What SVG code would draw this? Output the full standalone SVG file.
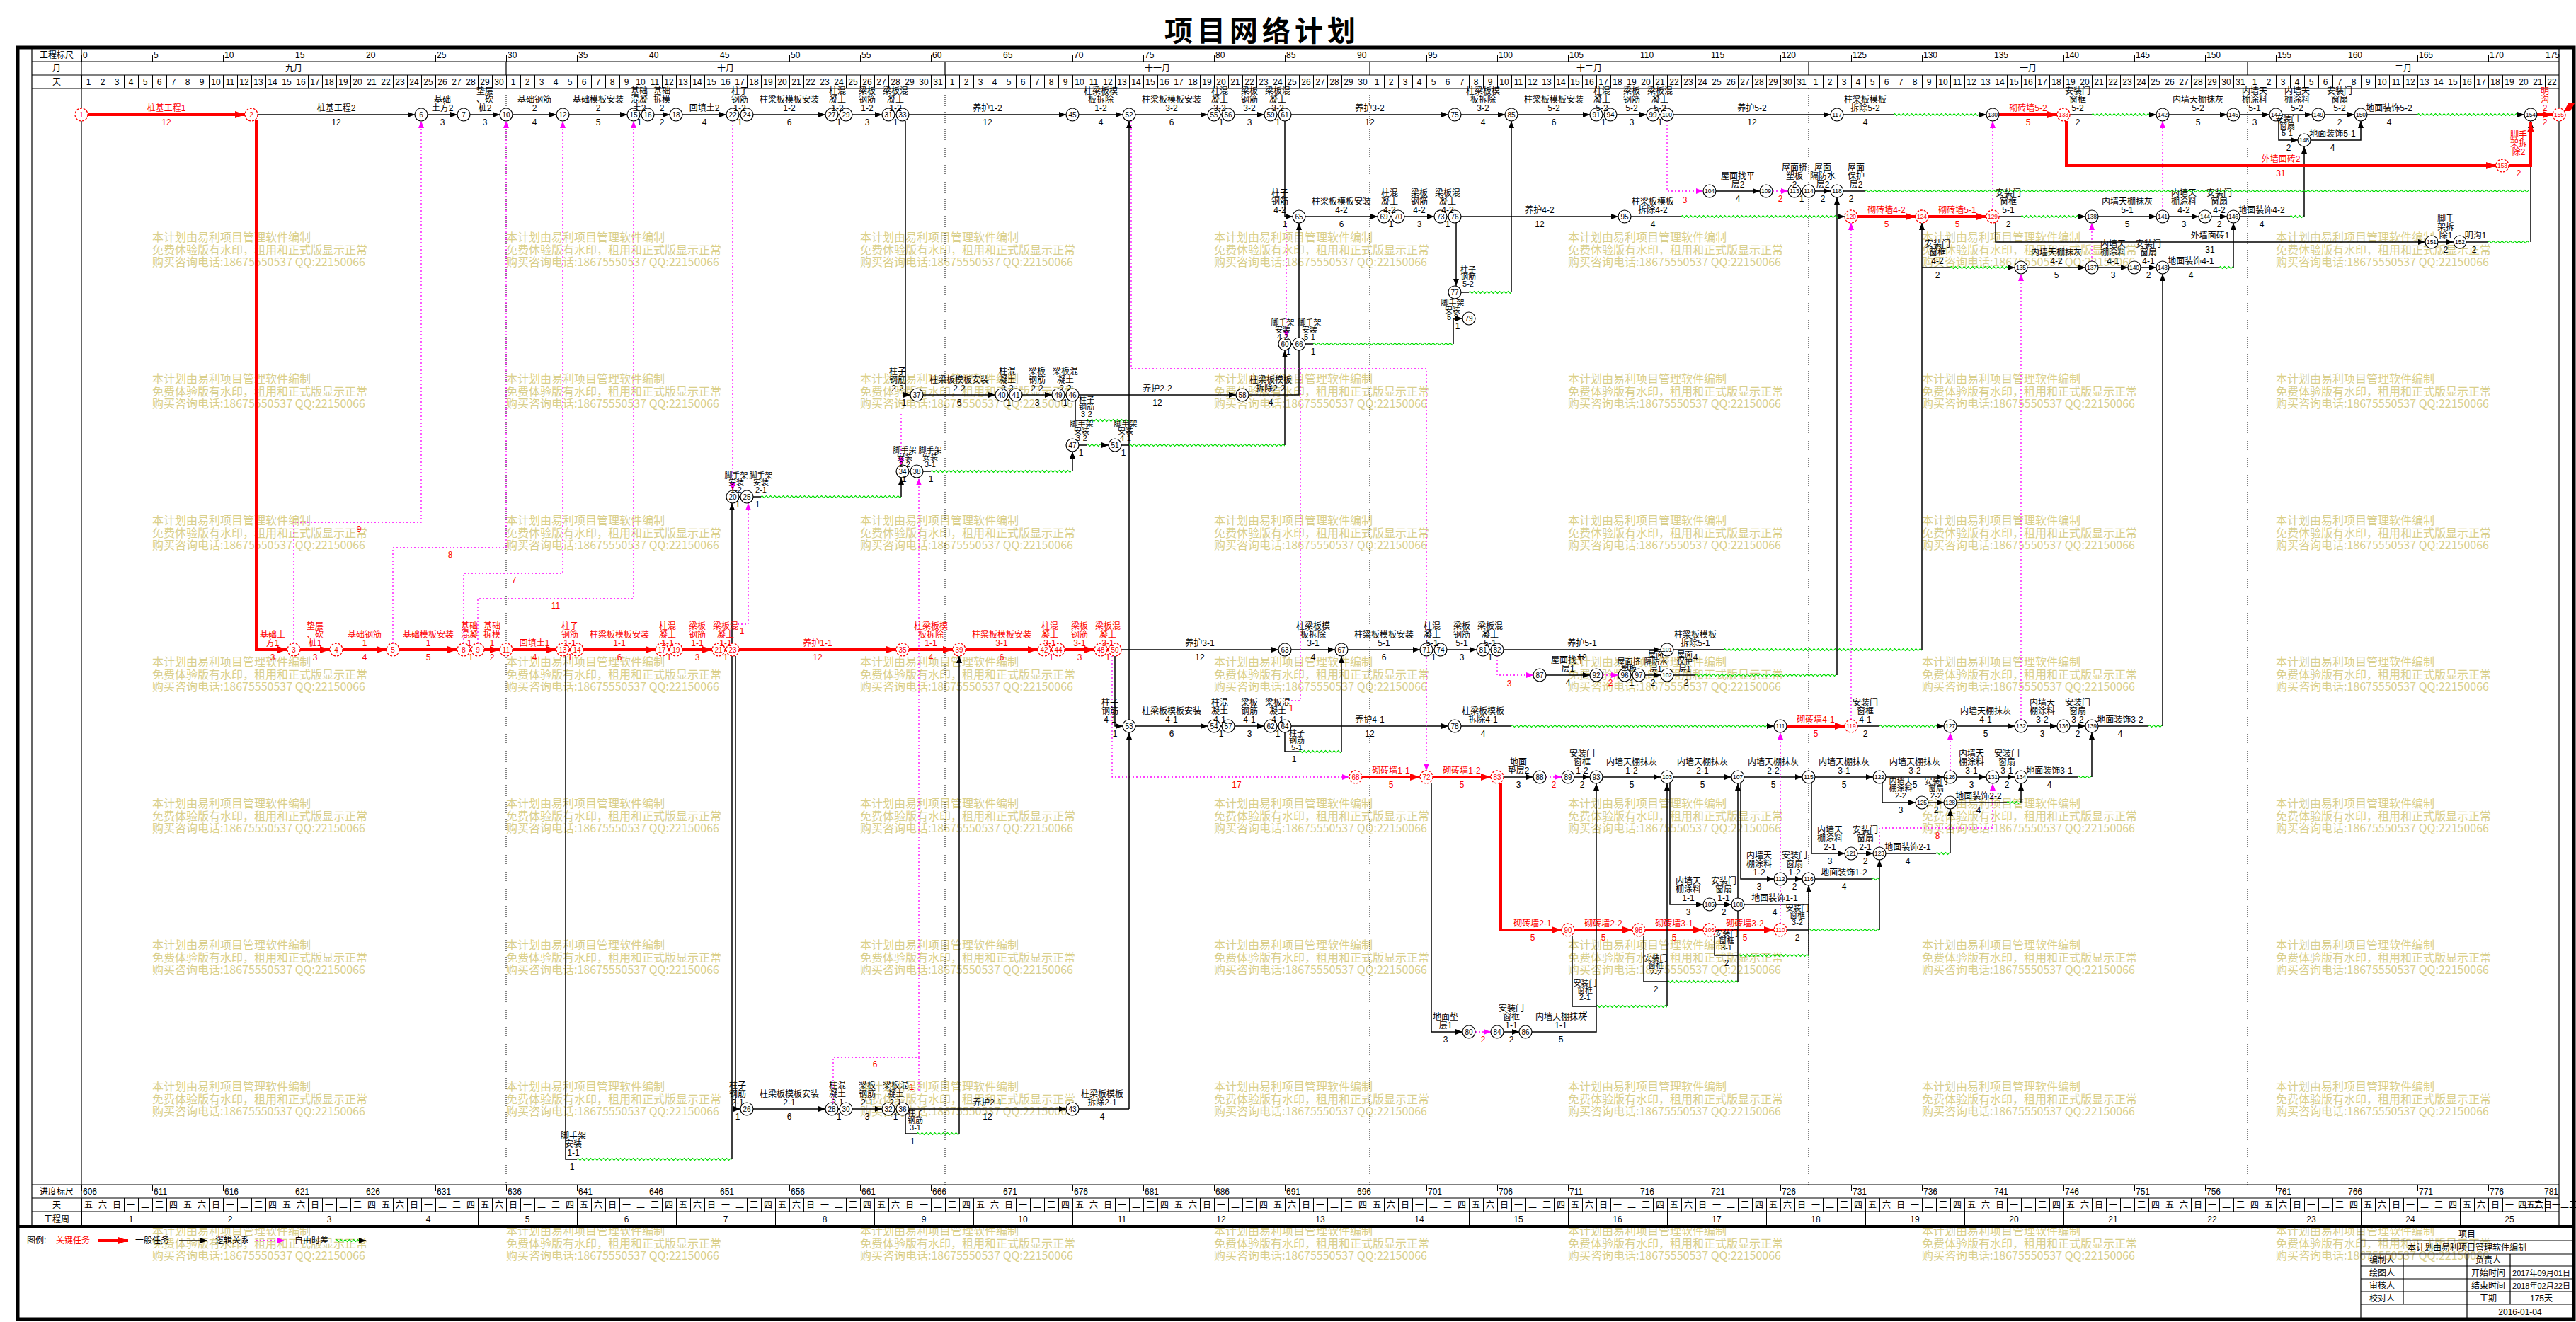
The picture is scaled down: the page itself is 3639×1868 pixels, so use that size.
<svg xmlns="http://www.w3.org/2000/svg" width="3639" height="1868" viewBox="0 0 3639 1868">
<style>
text{font-family:"Liberation Sans","Noto Sans CJK SC",sans-serif;font-size:12px;fill:#000}
.t{text-anchor:middle}
.tr{text-anchor:middle;fill:#f00}
.s{font-size:11px}
.nn{text-anchor:middle;font-size:10px}
.nr{text-anchor:middle;font-size:10px;fill:#f00}
.n3{text-anchor:middle;font-size:8.5px}
.n3r{text-anchor:middle;font-size:8.5px;fill:#f00}
.c{fill:#fff;stroke:#000;stroke-width:1.2}
.cr{fill:#fff;stroke:#f00;stroke-width:1.3;stroke-dasharray:3 2}
.a{fill:none;stroke:#000;stroke-width:1.5;marker-end:url(#ab)}
.b{fill:none;stroke:#000;stroke-width:1.5}
.ra{fill:none;stroke:#f00;stroke-width:4;marker-end:url(#ar)}
.ma{fill:none;stroke:#f0f;stroke-width:1.3;stroke-dasharray:2 3;marker-end:url(#am)}
.mb{fill:none;stroke:#f0f;stroke-width:1.3;stroke-dasharray:2 3}
.md{fill:none;stroke:#000;stroke-width:1;stroke-dasharray:1 2}
.gl{stroke:#000;stroke-width:1.2;fill:none}
.wm{fill:#d9cf8c;font-size:16px;font-family:"Noto Sans CJK SC",sans-serif}
.ttl{font-size:40px;font-weight:bold;text-anchor:middle;letter-spacing:6px;font-family:"Noto Sans CJK SC",sans-serif}
</style>
<defs>
<marker id="ab" viewBox="0 0 10 8" refX="10" refY="4" markerWidth="10" markerHeight="8" markerUnits="userSpaceOnUse" orient="auto"><path d="M0,0L10,4L0,8z" fill="#000"/></marker>
<marker id="ar" viewBox="0 0 14 10" refX="14" refY="5" markerWidth="14" markerHeight="10" markerUnits="userSpaceOnUse" orient="auto"><path d="M0,0L14,5L0,10z" fill="#f00"/></marker>
<marker id="am" viewBox="0 0 10 8" refX="10" refY="4" markerWidth="10" markerHeight="8" markerUnits="userSpaceOnUse" orient="auto"><path d="M0,0L10,4L0,8z" fill="#f0f"/></marker>
<pattern id="wv" width="6" height="6" y="-3" patternUnits="userSpaceOnUse"><path d="M0,3L1.5,1.5L4.5,4.5L6,3" fill="none" stroke="#00dd00" stroke-width="1.2"/></pattern>
<pattern id="dc" x="115" width="20" height="20" patternUnits="userSpaceOnUse"><rect width="1" height="20"/></pattern>
<pattern id="tk" x="115" width="100" height="20" patternUnits="userSpaceOnUse"><rect width="1" height="20"/></pattern>
<pattern id="wk" x="115" width="140" height="20" patternUnits="userSpaceOnUse"><rect width="1" height="20"/></pattern>
<text id="wm" class="wm"><tspan x="0" y="0">本计划由易利项目管理软件编制</tspan><tspan x="0" y="17.5">免费体验版有水印，租用和正式版显示正常</tspan><tspan x="0" y="35">购买咨询电话:18675550537 QQ:22150066</tspan></text>
<g id="d22"><text class="t" y="120"><tspan x="10">1</tspan><tspan x="30">2</tspan><tspan x="50">3</tspan><tspan x="70">4</tspan><tspan x="90">5</tspan><tspan x="110">6</tspan><tspan x="130">7</tspan><tspan x="150">8</tspan><tspan x="170">9</tspan><tspan x="190">10</tspan><tspan x="210">11</tspan><tspan x="230">12</tspan><tspan x="250">13</tspan><tspan x="270">14</tspan><tspan x="290">15</tspan><tspan x="310">16</tspan><tspan x="330">17</tspan><tspan x="350">18</tspan><tspan x="370">19</tspan><tspan x="390">20</tspan><tspan x="410">21</tspan><tspan x="430">22</tspan></text></g>
<g id="d30"><use href="#d22"/><text class="t" y="120"><tspan x="450">23</tspan><tspan x="470">24</tspan><tspan x="490">25</tspan><tspan x="510">26</tspan><tspan x="530">27</tspan><tspan x="550">28</tspan><tspan x="570">29</tspan><tspan x="590">30</tspan></text></g>
<g id="d31"><use href="#d30"/><text class="t" x="610" y="120">31</text></g>
</defs>
<rect width="3639" height="1868" fill="#fff"/>
<text class="ttl" x="1783" y="58">项目网络计划</text>

<g id="watermark">
<use href="#wm" x="215" y="341"/><use href="#wm" x="715" y="341"/><use href="#wm" x="1215" y="341"/><use href="#wm" x="1715" y="341"/><use href="#wm" x="2215" y="341"/><use href="#wm" x="2715" y="341"/><use href="#wm" x="3215" y="341"/>
<use href="#wm" x="215" y="541"/><use href="#wm" x="715" y="541"/><use href="#wm" x="1215" y="541"/><use href="#wm" x="1715" y="541"/><use href="#wm" x="2215" y="541"/><use href="#wm" x="2715" y="541"/><use href="#wm" x="3215" y="541"/>
<use href="#wm" x="215" y="741"/><use href="#wm" x="715" y="741"/><use href="#wm" x="1215" y="741"/><use href="#wm" x="1715" y="741"/><use href="#wm" x="2215" y="741"/><use href="#wm" x="2715" y="741"/><use href="#wm" x="3215" y="741"/>
<use href="#wm" x="215" y="941"/><use href="#wm" x="715" y="941"/><use href="#wm" x="1215" y="941"/><use href="#wm" x="1715" y="941"/><use href="#wm" x="2215" y="941"/><use href="#wm" x="2715" y="941"/><use href="#wm" x="3215" y="941"/>
<use href="#wm" x="215" y="1141"/><use href="#wm" x="715" y="1141"/><use href="#wm" x="1215" y="1141"/><use href="#wm" x="1715" y="1141"/><use href="#wm" x="2215" y="1141"/><use href="#wm" x="2715" y="1141"/><use href="#wm" x="3215" y="1141"/>
<use href="#wm" x="215" y="1341"/><use href="#wm" x="715" y="1341"/><use href="#wm" x="1215" y="1341"/><use href="#wm" x="1715" y="1341"/><use href="#wm" x="2215" y="1341"/><use href="#wm" x="2715" y="1341"/><use href="#wm" x="3215" y="1341"/>
<use href="#wm" x="215" y="1541"/><use href="#wm" x="715" y="1541"/><use href="#wm" x="1215" y="1541"/><use href="#wm" x="1715" y="1541"/><use href="#wm" x="2215" y="1541"/><use href="#wm" x="2715" y="1541"/><use href="#wm" x="3215" y="1541"/>
<use href="#wm" x="215" y="1745"/><use href="#wm" x="715" y="1745"/><use href="#wm" x="1215" y="1745"/><use href="#wm" x="1715" y="1745"/><use href="#wm" x="2215" y="1745"/><use href="#wm" x="2715" y="1745"/><use href="#wm" x="3215" y="1745"/>
</g>

<g id="frame">
<rect x="25" y="67" width="3611" height="1797" fill="none" stroke="#000" stroke-width="5"/>
<path class="gl" d="M45,67V1733M115,67V1733M3615,67V1733M45,87H3615M45,106H3615M45,125H3615M45,1674H3615M45,1693H3615M45,1712H3615"/>
<path d="M25,1733H3636" stroke="#000" stroke-width="4"/>
<path class="gl" d="M715,87V106M1335,87V106M1935,87V106M2555,87V106M3175,87V106"/>
<path class="md" d="M715,125V1674M1335,125V1674M1935,125V1674M2555,125V1674M3175,125V1674"/>
<rect x="115" y="106" width="3500" height="19" fill="url(#dc)"/>
<rect x="115" y="1693" width="3500" height="19" fill="url(#dc)"/>
<rect x="115" y="78" width="3500" height="9" fill="url(#tk)"/>
<rect x="115" y="1674" width="3500" height="9" fill="url(#tk)"/>
<rect x="115" y="1712" width="3500" height="19" fill="url(#wk)"/>
<text class="t" x="80" y="82">工程标尺</text><text class="t" x="80" y="101">月</text><text class="t" x="80" y="120">天</text>
<text class="t" x="80" y="1688">进度标尺</text><text class="t" x="80" y="1707">天</text><text class="t" x="80" y="1727">工程周</text>
<text y="82"><tspan x="117">0</tspan><tspan x="217">5</tspan><tspan x="317">10</tspan><tspan x="417">15</tspan><tspan x="517">20</tspan><tspan x="617">25</tspan><tspan x="717">30</tspan><tspan x="817">35</tspan><tspan x="917">40</tspan><tspan x="1017">45</tspan><tspan x="1117">50</tspan><tspan x="1217">55</tspan><tspan x="1317">60</tspan><tspan x="1417">65</tspan><tspan x="1517">70</tspan><tspan x="1617">75</tspan><tspan x="1717">80</tspan><tspan x="1817">85</tspan><tspan x="1917">90</tspan><tspan x="2017">95</tspan><tspan x="2117">100</tspan><tspan x="2217">105</tspan><tspan x="2317">110</tspan><tspan x="2417">115</tspan><tspan x="2517">120</tspan><tspan x="2617">125</tspan><tspan x="2717">130</tspan><tspan x="2817">135</tspan><tspan x="2917">140</tspan><tspan x="3017">145</tspan><tspan x="3117">150</tspan><tspan x="3217">155</tspan><tspan x="3317">160</tspan><tspan x="3417">165</tspan><tspan x="3517">170</tspan><tspan x="3596">175</tspan></text>
<text y="1688"><tspan x="117">606</tspan><tspan x="217">611</tspan><tspan x="317">616</tspan><tspan x="417">621</tspan><tspan x="517">626</tspan><tspan x="617">631</tspan><tspan x="717">636</tspan><tspan x="817">641</tspan><tspan x="917">646</tspan><tspan x="1017">651</tspan><tspan x="1117">656</tspan><tspan x="1217">661</tspan><tspan x="1317">666</tspan><tspan x="1417">671</tspan><tspan x="1517">676</tspan><tspan x="1617">681</tspan><tspan x="1717">686</tspan><tspan x="1817">691</tspan><tspan x="1917">696</tspan><tspan x="2017">701</tspan><tspan x="2117">706</tspan><tspan x="2217">711</tspan><tspan x="2317">716</tspan><tspan x="2417">721</tspan><tspan x="2517">726</tspan><tspan x="2617">731</tspan><tspan x="2717">736</tspan><tspan x="2817">741</tspan><tspan x="2917">746</tspan><tspan x="3017">751</tspan><tspan x="3117">756</tspan><tspan x="3217">761</tspan><tspan x="3317">766</tspan><tspan x="3417">771</tspan><tspan x="3517">776</tspan><tspan x="3594">781</tspan></text>
<text class="t" y="101"><tspan x="415">九月</tspan><tspan x="1025">十月</tspan><tspan x="1635">十一月</tspan><tspan x="2245">十二月</tspan><tspan x="2865">一月</tspan><tspan x="3395">二月</tspan></text>
<use href="#d30" x="115"/><use href="#d31" x="715"/><use href="#d30" x="1335"/><use href="#d31" x="1935"/><use href="#d31" x="2555"/><use href="#d22" x="3175"/>
<text class="t" y="1707" x="125 145 165 185 205 225 245 265 285 305 325 345 365 385 405 425 445 465 485 505 525 545 565 585 605 625 645 665 685 705 725 745 765 785 805 825 845 865 885 905 925 945 965 985 1005 1025 1045 1065 1085 1105 1125 1145 1165 1185 1205 1225 1245 1265 1285 1305 1325 1345 1365 1385 1405 1425 1445 1465 1485 1505 1525 1545 1565 1585 1605 1625 1645 1665 1685 1705 1725 1745 1765 1785 1805 1825 1845 1865 1885 1905 1925 1945 1965 1985 2005 2025 2045 2065 2085 2105 2125 2145 2165 2185 2205 2225 2245 2265 2285 2305 2325 2345 2365 2385 2405 2425 2445 2465 2485 2505 2525 2545 2565 2585 2605 2625 2645 2665 2685 2705 2725 2745 2765 2785 2805 2825 2845 2865 2885 2905 2925 2945 2965 2985 3005 3025 3045 3065 3085 3105 3125 3145 3165 3185 3205 3225 3245 3265 3285 3305 3325 3345 3365 3385 3405 3425 3445 3465 3485 3505 3525 3545 3565 3585 3605">五六日一二三四五六日一二三四五六日一二三四五六日一二三四五六日一二三四五六日一二三四五六日一二三四五六日一二三四五六日一二三四五六日一二三四五六日一二三四五六日一二三四五六日一二三四五六日一二三四五六日一二三四五六日一二三四五六日一二三四五六日一二三四五六日一二三四五六日一二三四五六日一二三四五六日一二三四五六日一二三四五六日一二三四五六日一二三四五六日一二三四</text>
<text class="t" y="1727"><tspan x="185">1</tspan><tspan x="325">2</tspan><tspan x="465">3</tspan><tspan x="605">4</tspan><tspan x="745">5</tspan><tspan x="885">6</tspan><tspan x="1025">7</tspan><tspan x="1165">8</tspan><tspan x="1305">9</tspan><tspan x="1445">10</tspan><tspan x="1585">11</tspan><tspan x="1725">12</tspan><tspan x="1865">13</tspan><tspan x="2005">14</tspan><tspan x="2145">15</tspan><tspan x="2285">16</tspan><tspan x="2425">17</tspan><tspan x="2565">18</tspan><tspan x="2705">19</tspan><tspan x="2845">20</tspan><tspan x="2985">21</tspan><tspan x="3125">22</tspan><tspan x="3265">23</tspan><tspan x="3405">24</tspan><tspan x="3545">25</tspan></text>
</g>

<g id="legend">
<text x="38" y="1757">图例:</text>
<text x="79" y="1757" style="fill:#f00">关键任务</text>
<path class="ra" d="M138,1753H181"/>
<text x="191" y="1757">一般任务</text>
<path class="a" d="M253,1753H293"/>
<text x="304" y="1757">逻辑关系</text>
<path class="ma" d="M362,1753H402"/>
<text x="416" y="1757">自由时差</text>
<rect transform="translate(474,1753)" y="-3" width="33" height="6" fill="url(#wv)"/>
<path class="a" d="M507,1753H517"/>
</g>

<g id="titleblock">
<path class="gl" d="M3335,1733V1864M3335,1753H3636M3335,1772H3636M3335,1789H3636M3335,1807H3636M3335,1825H3636M3335,1843H3636M3395,1772V1843M3485,1772V1864M3546,1772V1843"/>
<text class="t" x="3485" y="1748">项目</text>
<text class="t" x="3485" y="1767">本计划由易利项目管理软件编制</text>
<text class="t" x="3365" y="1785">编制人</text><text class="t" x="3515" y="1785">负责人</text>
<text class="t" x="3365" y="1803">绘图人</text><text class="t" x="3515" y="1803">开始时间</text><text class="t s" x="3590" y="1803">2017年09月01日</text>
<text class="t" x="3365" y="1821">审核人</text><text class="t" x="3515" y="1821">结束时间</text><text class="t s" x="3590" y="1821">2018年02月22日</text>
<text class="t" x="3365" y="1839">校对人</text><text class="t" x="3515" y="1839">工期</text><text class="t" x="3590" y="1839">175天</text>
<text class="t" x="3560" y="1858">2016-01-04</text>
</g>

<g id="connectors" transform="translate(2,0)">
<path class="ra" d="M122,162H344"/>
<path class="a" d="M362,162H584"/><path class="a" d="M602,162H644"/><path class="a" d="M662,162H704"/><path class="a" d="M722,162H784"/><path class="a" d="M802,162H884"/><path class="a" d="M902,162H904"/><path class="a" d="M922,162H944"/><path class="a" d="M962,162H1024"/><path class="a" d="M1042,162H1044"/><path class="a" d="M1062,162H1164"/><path class="a" d="M1182,162H1184"/><path class="a" d="M1202,162H1244"/><path class="a" d="M1262,162H1264"/><path class="a" d="M1282,162H1504"/><path class="a" d="M1522,162H1584"/><path class="a" d="M1602,162H1704"/><path class="a" d="M1722,162H1724"/><path class="a" d="M1742,162H1784"/><path class="a" d="M1802,162H1804"/><path class="a" d="M1822,162H2044"/><path class="a" d="M2062,162H2124"/><path class="a" d="M2142,162H2244"/><path class="a" d="M2262,162H2264"/><path class="a" d="M2282,162H2324"/><path class="a" d="M2342,162H2344"/><path class="a" d="M2362,162H2584"/>
<path class="b" d="M2602,162H2673"/><rect transform="translate(2673,162)" y="-3" width="121" height="6" fill="url(#wv)"/><path class="a" d="M2794,162H2804"/>
<path class="ra" d="M2822,162H2904"/>
<path class="b" d="M2922,162H2953"/><rect transform="translate(2953,162)" y="-3" width="81" height="6" fill="url(#wv)"/><path class="a" d="M3034,162H3044"/>
<path class="a" d="M3062,162H3144"/><path class="a" d="M3162,162H3204"/><path class="a" d="M3222,162H3264"/><path class="a" d="M3282,162H3324"/>
<path class="b" d="M3342,162H3413"/><rect transform="translate(3413,162)" y="-3" width="141" height="6" fill="url(#wv)"/><path class="a" d="M3554,162H3564"/>
<path class="ra" d="M3582,162H3604"/>

<path class="ra" d="M360,170V918H404"/>
<path class="ra" d="M422,918H464"/><path class="ra" d="M482,918H544"/><path class="ra" d="M562,918H644"/><path class="ra" d="M662,918H664"/><path class="ra" d="M682,918H704"/><path class="ra" d="M722,918H784"/><path class="ra" d="M802,918H804"/><path class="ra" d="M822,918H924"/><path class="ra" d="M942,918H944"/><path class="ra" d="M962,918H1004"/><path class="ra" d="M1022,918H1024"/><path class="ra" d="M1042,918H1264"/><path class="ra" d="M1282,918H1344"/><path class="ra" d="M1362,918H1464"/><path class="ra" d="M1482,918H1484"/><path class="ra" d="M1502,918H1544"/><path class="ra" d="M1562,918H1564"/>
<path class="a" d="M1582,918H1804"/><path class="a" d="M1822,918H1884"/><path class="a" d="M1902,918H2004"/><path class="a" d="M2022,918H2024"/><path class="a" d="M2042,918H2084"/><path class="a" d="M2102,918H2104"/><path class="a" d="M2122,918H2344"/>
<path class="b" d="M2362,918H2433"/><rect transform="translate(2433,918)" y="-3" width="280" height="6" fill="url(#wv)"/><path class="a" d="M2713,918V315"/>

<path class="ma" d="M2113,927V954H2164"/>
<path class="a" d="M2182,954H2244"/><path class="ma" d="M2262,954H2284"/><path class="a" d="M2302,954H2304"/><path class="a" d="M2322,954H2344"/>
<path class="b" d="M2362,954H2393"/><rect transform="translate(2393,954)" y="-3" width="200" height="6" fill="url(#wv)"/><path class="a" d="M2593,954V279"/>

<path class="a" d="M1573,927V1026H1584"/>
<path class="a" d="M1602,1026H1704"/><path class="a" d="M1722,1026H1724"/><path class="a" d="M1742,1026H1784"/><path class="a" d="M1802,1026H1804"/><path class="a" d="M1822,1026H2044"/>
<path class="b" d="M2062,1026H2133"/><rect transform="translate(2133,1026)" y="-3" width="361" height="6" fill="url(#wv)"/><path class="a" d="M2494,1026H2504"/>
<path class="ra" d="M2522,1026H2604"/>
<path class="b" d="M2622,1026H2653"/><rect transform="translate(2653,1026)" y="-3" width="81" height="6" fill="url(#wv)"/><path class="a" d="M2734,1026H2744"/>
<path class="a" d="M2762,1026H2844"/><path class="a" d="M2862,1026H2904"/><path class="a" d="M2922,1026H2944"/>
<path class="b" d="M2962,1026H3033"/><rect transform="translate(3033,1026)" y="-3" width="20" height="6" fill="url(#wv)"/><path class="a" d="M3053,1026V387"/>
<path class="b" d="M1813,1035V1062H1833"/><rect transform="translate(1833,1062)" y="-3" width="60" height="6" fill="url(#wv)"/><path class="a" d="M1893,1062V927"/>

<path class="ma" d="M1569,927V1098H1904"/>
<path class="ra" d="M1922,1098H2004"/><path class="ra" d="M2022,1098H2104"/>
<path class="a" d="M2122,1098H2164"/><path class="ma" d="M2182,1098H2204"/><path class="a" d="M2222,1098H2244"/><path class="a" d="M2262,1098H2344"/><path class="a" d="M2362,1098H2444"/><path class="a" d="M2462,1098H2544"/><path class="a" d="M2562,1098H2644"/><path class="a" d="M2662,1098H2744"/><path class="a" d="M2762,1098H2804"/><path class="a" d="M2822,1098H2844"/>
<path class="b" d="M2862,1098H2933"/><rect transform="translate(2933,1098)" y="-3" width="20" height="6" fill="url(#wv)"/><path class="a" d="M2953,1098V1035"/>

<path class="a" d="M2657,1107V1134H2704"/><path class="a" d="M2722,1134H2744"/>
<path class="b" d="M2762,1134H2833"/><rect transform="translate(2833,1134)" y="-3" width="20" height="6" fill="url(#wv)"/><path class="a" d="M2853,1134V1107"/>
<path class="a" d="M2557,1107V1206H2604"/><path class="a" d="M2622,1206H2644"/>
<path class="b" d="M2662,1206H2733"/><rect transform="translate(2733,1206)" y="-3" width="20" height="6" fill="url(#wv)"/><path class="a" d="M2753,1206V1143"/>
<path class="ma" d="M2653,1197V1170H2813V1107"/>
<path class="a" d="M2457,1107V1242H2504"/><path class="a" d="M2522,1242H2544"/>
<path class="b" d="M2562,1242H2643"/><rect transform="translate(2643,1242)" y="-3" width="10" height="6" fill="url(#wv)"/>
<path class="a" d="M2357,1107V1278H2404"/><path class="a" d="M2422,1278H2444"/>
<path class="a" d="M2462,1278H2553V1251"/>
<path class="ra" d="M2118,1107V1314H2204"/><path class="ra" d="M2222,1314H2304"/><path class="ra" d="M2322,1314H2404"/><path class="ra" d="M2422,1314H2504"/>
<path class="b" d="M2522,1314H2553"/><rect transform="translate(2553,1314)" y="-3" width="100" height="6" fill="url(#wv)"/><path class="a" d="M2653,1314V1215"/>
<path class="ma" d="M2513,1305V1035"/>
<path class="b" d="M2420,1323V1350H2453"/><rect transform="translate(2453,1350)" y="-3" width="100" height="6" fill="url(#wv)"/><path class="b" d="M2553,1350V1278"/>
<path class="b" d="M2320,1323V1387H2353"/><rect transform="translate(2353,1387)" y="-3" width="100" height="6" fill="url(#wv)"/><path class="a" d="M2453,1387V1107"/>
<path class="b" d="M2219,1323V1422H2253"/><rect transform="translate(2253,1422)" y="-3" width="100" height="6" fill="url(#wv)"/><path class="a" d="M2353,1422V1107"/>
<path class="a" d="M2020,1107V1458H2064"/><path class="ma" d="M2082,1458H2104"/><path class="a" d="M2122,1458H2144"/>
<path class="a" d="M2162,1458H2253V1107"/>
<path class="ma" d="M2753,1089V1035"/>
<path class="ma" d="M2613,1017V315"/>
<path class="ma" d="M2853,1017V387"/>

<path class="a" d="M1813,171V306H1824"/>
<path class="a" d="M1842,306H1944"/><path class="a" d="M1962,306H1964"/><path class="a" d="M1982,306H2024"/><path class="a" d="M2042,306H2044"/><path class="a" d="M2062,306H2284"/>
<path class="b" d="M2302,306H2373"/><rect transform="translate(2373,306)" y="-3" width="221" height="6" fill="url(#wv)"/><path class="a" d="M2594,306H2604"/>
<path class="ra" d="M2622,306H2704"/><path class="ra" d="M2722,306H2804"/>
<path class="b" d="M2822,306H2853"/><rect transform="translate(2853,306)" y="-3" width="81" height="6" fill="url(#wv)"/><path class="a" d="M2934,306H2944"/>
<path class="a" d="M2962,306H3044"/><path class="a" d="M3062,306H3104"/><path class="a" d="M3122,306H3144"/>
<path class="b" d="M3162,306H3233"/><rect transform="translate(3233,306)" y="-3" width="20" height="6" fill="url(#wv)"/><path class="a" d="M3253,306V207"/>
<path class="ma" d="M2813,297V171"/><path class="ma" d="M3053,297V171"/><path class="ma" d="M2953,369V315"/>

<path class="b" d="M2713,378H2753"/><rect transform="translate(2753,378)" y="-3" width="81" height="6" fill="url(#wv)"/><path class="a" d="M2834,378H2844"/>
<path class="a" d="M2862,378H2944"/><path class="a" d="M2962,378H3004"/><path class="a" d="M3022,378H3044"/>
<path class="b" d="M3062,378H3133"/><rect transform="translate(3133,378)" y="-3" width="20" height="6" fill="url(#wv)"/><path class="a" d="M3153,378V315"/>

<path class="a" d="M2817,315V342H3424"/><path class="a" d="M3442,342H3464"/>
<path class="b" d="M3482,342H3513"/><rect transform="translate(3513,342)" y="-3" width="58" height="6" fill="url(#wv)"/><path class="a" d="M3573,342V171"/>

<path class="ma" d="M2353,171V270H2404"/>
<path class="a" d="M2422,270H2484"/><path class="ma" d="M2502,270H2524"/><path class="a" d="M2542,270H2544"/><path class="a" d="M2562,270H2584"/>
<path class="b" d="M2602,270H2633"/><rect transform="translate(2633,270)" y="-3" width="938" height="6" fill="url(#wv)"/>

<path class="ra" d="M2917,171V234H3524"/><path class="ra" d="M3542,234H3573V173"/>
<path class="a" d="M3217,171V198H3244"/><path class="a" d="M3262,198H3333V171"/>

<path class="a" d="M1277,171V558H1284"/>
<path class="a" d="M1302,558H1404"/><path class="a" d="M1422,558H1424"/><path class="a" d="M1442,558H1484"/><path class="a" d="M1502,558H1504"/><path class="a" d="M1522,558H1744"/>
<path class="a" d="M1762,558H1833V315"/>
<path class="b" d="M1517,567V594H1533"/><rect transform="translate(1533,594)" y="-3" width="60" height="6" fill="url(#wv)"/>
<path class="a" d="M1593,1567V1035"/><path class="a" d="M1593,1017V171"/>

<path class="a" d="M1042,702H1044"/>
<path class="b" d="M1062,702H1073"/><rect transform="translate(1073,702)" y="-3" width="198" height="6" fill="url(#wv)"/><path class="a" d="M1271,702V675"/>
<path class="a" d="M1282,666H1284"/>
<path class="b" d="M1302,666H1313"/><rect transform="translate(1313,666)" y="-3" width="198" height="6" fill="url(#wv)"/><path class="a" d="M1513,666V638"/>
<path class="b" d="M1522,629H1533"/><rect transform="translate(1533,629)" y="-3" width="21" height="6" fill="url(#wv)"/><path class="a" d="M1554,629H1564"/>
<path class="b" d="M1582,629H1593"/><rect transform="translate(1593,629)" y="-3" width="220" height="6" fill="url(#wv)"/><path class="a" d="M1813,629V495"/>
<path class="a" d="M1822,486H1824"/>
<path class="b" d="M1842,486H1853"/><rect transform="translate(1853,486)" y="-3" width="198" height="6" fill="url(#wv)"/><path class="a" d="M2051,486V450H2064"/>
<path class="ma" d="M1815,315V477"/>
<path class="a" d="M2055,315V404"/>
<path class="b" d="M2062,413H2073"/><rect transform="translate(2073,413)" y="-3" width="60" height="6" fill="url(#wv)"/><path class="a" d="M2133,413V171"/>

<path class="a" d="M1037,927V1567H1044"/>
<path class="a" d="M1062,1567H1164"/><path class="a" d="M1182,1567H1184"/><path class="a" d="M1202,1567H1244"/><path class="a" d="M1262,1567H1264"/><path class="a" d="M1282,1567H1504"/>
<path class="b" d="M1522,1567H1593"/>
<path class="b" d="M1277,1576V1602H1293"/><rect transform="translate(1293,1602)" y="-3" width="60" height="6" fill="url(#wv)"/><path class="a" d="M1353,1602V927"/>
<path class="b" d="M797,927V1638H813"/><rect transform="translate(813,1638)" y="-3" width="219" height="6" fill="url(#wv)"/><path class="a" d="M1032,1638V711"/>

<path class="ma" d="M1175,1558V1494H1296V676"/><path class="mb" d="M1296,1494V1545"/>
<path class="ma" d="M1271,585V657"/>
<path class="ma" d="M1040,882H1055V711"/>
<path class="ma" d="M413,909V738H593V171"/>
<path class="ma" d="M553,909V774H713V171"/>
<path class="ma" d="M653,909V810H793V171"/>
<path class="ma" d="M673,909V846H893V171"/>
<path class="ma" d="M1033,171V693"/>
<path class="ma" d="M1596,171V521H2013V1089"/>
<path class="mb" d="M1835,521V990H1818"/>
<polygon points="3620,157 3626,146 3635,146 3629,157" fill="#f00"/>
</g>

<g id="nodes" transform="translate(2,0)">
<g id="n1"><circle class="cr" cx="113" cy="162" r="9"/><text class="nr" x="113" y="165.5">1</text></g>
<g id="n2"><circle class="cr" cx="353" cy="162" r="9"/><text class="nr" x="353" y="165.5">2</text></g>
<g id="n6"><circle class="c" cx="593" cy="162" r="9"/><text class="nn" x="593" y="165.5">6</text></g>
<g id="n7"><circle class="c" cx="653" cy="162" r="9"/><text class="nn" x="653" y="165.5">7</text></g>
<g id="n10"><circle class="c" cx="713" cy="162" r="9"/><text class="nn" x="713" y="165.5">10</text></g>
<g id="n12"><circle class="c" cx="793" cy="162" r="9"/><text class="nn" x="793" y="165.5">12</text></g>
<g id="n15"><circle class="c" cx="893" cy="162" r="9"/><text class="nn" x="893" y="165.5">15</text></g>
<g id="n16"><circle class="c" cx="913" cy="162" r="9"/><text class="nn" x="913" y="165.5">16</text></g>
<g id="n18"><circle class="c" cx="953" cy="162" r="9"/><text class="nn" x="953" y="165.5">18</text></g>
<g id="n22"><circle class="c" cx="1033" cy="162" r="9"/><text class="nn" x="1033" y="165.5">22</text></g>
<g id="n24"><circle class="c" cx="1053" cy="162" r="9"/><text class="nn" x="1053" y="165.5">24</text></g>
<g id="n27"><circle class="c" cx="1173" cy="162" r="9"/><text class="nn" x="1173" y="165.5">27</text></g>
<g id="n29"><circle class="c" cx="1193" cy="162" r="9"/><text class="nn" x="1193" y="165.5">29</text></g>
<g id="n31"><circle class="c" cx="1253" cy="162" r="9"/><text class="nn" x="1253" y="165.5">31</text></g>
<g id="n33"><circle class="c" cx="1273" cy="162" r="9"/><text class="nn" x="1273" y="165.5">33</text></g>
<g id="n45"><circle class="c" cx="1513" cy="162" r="9"/><text class="nn" x="1513" y="165.5">45</text></g>
<g id="n52"><circle class="c" cx="1593" cy="162" r="9"/><text class="nn" x="1593" y="165.5">52</text></g>
<g id="n55"><circle class="c" cx="1713" cy="162" r="9"/><text class="nn" x="1713" y="165.5">55</text></g>
<g id="n56"><circle class="c" cx="1733" cy="162" r="9"/><text class="nn" x="1733" y="165.5">56</text></g>
<g id="n59"><circle class="c" cx="1793" cy="162" r="9"/><text class="nn" x="1793" y="165.5">59</text></g>
<g id="n61"><circle class="c" cx="1813" cy="162" r="9"/><text class="nn" x="1813" y="165.5">61</text></g>
<g id="n75"><circle class="c" cx="2053" cy="162" r="9"/><text class="nn" x="2053" y="165.5">75</text></g>
<g id="n85"><circle class="c" cx="2133" cy="162" r="9"/><text class="nn" x="2133" y="165.5">85</text></g>
<g id="n91"><circle class="c" cx="2253" cy="162" r="9"/><text class="nn" x="2253" y="165.5">91</text></g>
<g id="n94"><circle class="c" cx="2273" cy="162" r="9"/><text class="nn" x="2273" y="165.5">94</text></g>
<g id="n99"><circle class="c" cx="2333" cy="162" r="9"/><text class="nn" x="2333" y="165.5">99</text></g>
<g id="n100"><circle class="c" cx="2353" cy="162" r="9"/><text class="n3" x="2353" y="165">100</text></g>
<g id="n117"><circle class="c" cx="2593" cy="162" r="9"/><text class="n3" x="2593" y="165">117</text></g>
<g id="n130"><circle class="c" cx="2813" cy="162" r="9"/><text class="n3" x="2813" y="165">130</text></g>
<g id="n133"><circle class="cr" cx="2913" cy="162" r="9"/><text class="n3r" x="2913" y="165">133</text></g>
<g id="n142"><circle class="c" cx="3053" cy="162" r="9"/><text class="n3" x="3053" y="165">142</text></g>
<g id="n145"><circle class="c" cx="3153" cy="162" r="9"/><text class="n3" x="3153" y="165">145</text></g>
<g id="n147"><circle class="c" cx="3213" cy="162" r="9"/><text class="n3" x="3213" y="165">147</text></g>
<g id="n149"><circle class="c" cx="3273" cy="162" r="9"/><text class="n3" x="3273" y="165">149</text></g>
<g id="n150"><circle class="c" cx="3333" cy="162" r="9"/><text class="n3" x="3333" y="165">150</text></g>
<g id="n154"><circle class="c" cx="3573" cy="162" r="9"/><text class="n3" x="3573" y="165">154</text></g>
<g id="n155"><circle class="cr" cx="3613" cy="162" r="9"/><text class="n3r" x="3613" y="165">155</text></g>
<g id="n148"><circle class="c" cx="3253" cy="198" r="9"/><text class="n3" x="3253" y="201">148</text></g>
<g id="n153"><circle class="cr" cx="3533" cy="234" r="9"/><text class="n3r" x="3533" y="237">153</text></g>
<g id="n104"><circle class="c" cx="2413" cy="270" r="9"/><text class="n3" x="2413" y="273">104</text></g>
<g id="n109"><circle class="c" cx="2493" cy="270" r="9"/><text class="n3" x="2493" y="273">109</text></g>
<g id="n113"><circle class="c" cx="2533" cy="270" r="9"/><text class="n3" x="2533" y="273">113</text></g>
<g id="n114"><circle class="c" cx="2553" cy="270" r="9"/><text class="n3" x="2553" y="273">114</text></g>
<g id="n118"><circle class="c" cx="2593" cy="270" r="9"/><text class="n3" x="2593" y="273">118</text></g>
<g id="n65"><circle class="c" cx="1833" cy="306" r="9"/><text class="nn" x="1833" y="309.5">65</text></g>
<g id="n69"><circle class="c" cx="1953" cy="306" r="9"/><text class="nn" x="1953" y="309.5">69</text></g>
<g id="n70"><circle class="c" cx="1973" cy="306" r="9"/><text class="nn" x="1973" y="309.5">70</text></g>
<g id="n73"><circle class="c" cx="2033" cy="306" r="9"/><text class="nn" x="2033" y="309.5">73</text></g>
<g id="n76"><circle class="c" cx="2053" cy="306" r="9"/><text class="nn" x="2053" y="309.5">76</text></g>
<g id="n95"><circle class="c" cx="2293" cy="306" r="9"/><text class="nn" x="2293" y="309.5">95</text></g>
<g id="n120"><circle class="cr" cx="2613" cy="306" r="9"/><text class="n3r" x="2613" y="309">120</text></g>
<g id="n124"><circle class="cr" cx="2713" cy="306" r="9"/><text class="n3r" x="2713" y="309">124</text></g>
<g id="n129"><circle class="cr" cx="2813" cy="306" r="9"/><text class="n3r" x="2813" y="309">129</text></g>
<g id="n138"><circle class="c" cx="2953" cy="306" r="9"/><text class="n3" x="2953" y="309">138</text></g>
<g id="n141"><circle class="c" cx="3053" cy="306" r="9"/><text class="n3" x="3053" y="309">141</text></g>
<g id="n144"><circle class="c" cx="3113" cy="306" r="9"/><text class="n3" x="3113" y="309">144</text></g>
<g id="n146"><circle class="c" cx="3153" cy="306" r="9"/><text class="n3" x="3153" y="309">146</text></g>
<g id="n151"><circle class="c" cx="3433" cy="342" r="9"/><text class="n3" x="3433" y="345">151</text></g>
<g id="n152"><circle class="c" cx="3473" cy="342" r="9"/><text class="n3" x="3473" y="345">152</text></g>
<g id="n135"><circle class="c" cx="2853" cy="378" r="9"/><text class="n3" x="2853" y="381">135</text></g>
<g id="n137"><circle class="c" cx="2953" cy="378" r="9"/><text class="n3" x="2953" y="381">137</text></g>
<g id="n140"><circle class="c" cx="3013" cy="378" r="9"/><text class="n3" x="3013" y="381">140</text></g>
<g id="n143"><circle class="c" cx="3053" cy="378" r="9"/><text class="n3" x="3053" y="381">143</text></g>
<g id="n77"><circle class="c" cx="2053" cy="413" r="9"/><text class="nn" x="2053" y="416.5">77</text></g>
<g id="n79"><circle class="c" cx="2073" cy="450" r="9"/><text class="nn" x="2073" y="453.5">79</text></g>
<g id="n60"><circle class="c" cx="1813" cy="486" r="9"/><text class="nn" x="1813" y="489.5">60</text></g>
<g id="n66"><circle class="c" cx="1833" cy="486" r="9"/><text class="nn" x="1833" y="489.5">66</text></g>
<g id="n37"><circle class="c" cx="1293" cy="558" r="9"/><text class="nn" x="1293" y="561.5">37</text></g>
<g id="n40"><circle class="c" cx="1413" cy="558" r="9"/><text class="nn" x="1413" y="561.5">40</text></g>
<g id="n41"><circle class="c" cx="1433" cy="558" r="9"/><text class="nn" x="1433" y="561.5">41</text></g>
<g id="n49"><circle class="c" cx="1493" cy="558" r="9"/><text class="nn" x="1493" y="561.5">49</text></g>
<g id="n46"><circle class="c" cx="1513" cy="558" r="9"/><text class="nn" x="1513" y="561.5">46</text></g>
<g id="n58"><circle class="c" cx="1753" cy="558" r="9"/><text class="nn" x="1753" y="561.5">58</text></g>
<g id="n47"><circle class="c" cx="1513" cy="629" r="9"/><text class="nn" x="1513" y="632.5">47</text></g>
<g id="n51"><circle class="c" cx="1573" cy="629" r="9"/><text class="nn" x="1573" y="632.5">51</text></g>
<g id="n34"><circle class="c" cx="1273" cy="666" r="9"/><text class="nn" x="1273" y="669.5">34</text></g>
<g id="n38"><circle class="c" cx="1293" cy="666" r="9"/><text class="nn" x="1293" y="669.5">38</text></g>
<g id="n20"><circle class="c" cx="1033" cy="702" r="9"/><text class="nn" x="1033" y="705.5">20</text></g>
<g id="n25"><circle class="c" cx="1053" cy="702" r="9"/><text class="nn" x="1053" y="705.5">25</text></g>
<g id="n3"><circle class="cr" cx="413" cy="918" r="9"/><text class="nr" x="413" y="921.5">3</text></g>
<g id="n4"><circle class="cr" cx="473" cy="918" r="9"/><text class="nr" x="473" y="921.5">4</text></g>
<g id="n5"><circle class="cr" cx="553" cy="918" r="9"/><text class="nr" x="553" y="921.5">5</text></g>
<g id="n8"><circle class="cr" cx="653" cy="918" r="9"/><text class="nr" x="653" y="921.5">8</text></g>
<g id="n9"><circle class="cr" cx="673" cy="918" r="9"/><text class="nr" x="673" y="921.5">9</text></g>
<g id="n11"><circle class="cr" cx="713" cy="918" r="9"/><text class="nr" x="713" y="921.5">11</text></g>
<g id="n13"><circle class="cr" cx="793" cy="918" r="9"/><text class="nr" x="793" y="921.5">13</text></g>
<g id="n14"><circle class="cr" cx="813" cy="918" r="9"/><text class="nr" x="813" y="921.5">14</text></g>
<g id="n17"><circle class="cr" cx="933" cy="918" r="9"/><text class="nr" x="933" y="921.5">17</text></g>
<g id="n19"><circle class="cr" cx="953" cy="918" r="9"/><text class="nr" x="953" y="921.5">19</text></g>
<g id="n21"><circle class="cr" cx="1013" cy="918" r="9"/><text class="nr" x="1013" y="921.5">21</text></g>
<g id="n23"><circle class="cr" cx="1033" cy="918" r="9"/><text class="nr" x="1033" y="921.5">23</text></g>
<g id="n35"><circle class="cr" cx="1273" cy="918" r="9"/><text class="nr" x="1273" y="921.5">35</text></g>
<g id="n39"><circle class="cr" cx="1353" cy="918" r="9"/><text class="nr" x="1353" y="921.5">39</text></g>
<g id="n42"><circle class="cr" cx="1473" cy="918" r="9"/><text class="nr" x="1473" y="921.5">42</text></g>
<g id="n44"><circle class="cr" cx="1493" cy="918" r="9"/><text class="nr" x="1493" y="921.5">44</text></g>
<g id="n48"><circle class="cr" cx="1553" cy="918" r="9"/><text class="nr" x="1553" y="921.5">48</text></g>
<g id="n50"><circle class="cr" cx="1573" cy="918" r="9"/><text class="nr" x="1573" y="921.5">50</text></g>
<g id="n63"><circle class="c" cx="1813" cy="918" r="9"/><text class="nn" x="1813" y="921.5">63</text></g>
<g id="n67"><circle class="c" cx="1893" cy="918" r="9"/><text class="nn" x="1893" y="921.5">67</text></g>
<g id="n71"><circle class="c" cx="2013" cy="918" r="9"/><text class="nn" x="2013" y="921.5">71</text></g>
<g id="n74"><circle class="c" cx="2033" cy="918" r="9"/><text class="nn" x="2033" y="921.5">74</text></g>
<g id="n81"><circle class="c" cx="2093" cy="918" r="9"/><text class="nn" x="2093" y="921.5">81</text></g>
<g id="n82"><circle class="c" cx="2113" cy="918" r="9"/><text class="nn" x="2113" y="921.5">82</text></g>
<g id="n101"><circle class="c" cx="2353" cy="918" r="9"/><text class="n3" x="2353" y="921">101</text></g>
<g id="n87"><circle class="c" cx="2173" cy="954" r="9"/><text class="nn" x="2173" y="957.5">87</text></g>
<g id="n92"><circle class="c" cx="2253" cy="954" r="9"/><text class="nn" x="2253" y="957.5">92</text></g>
<g id="n96"><circle class="c" cx="2293" cy="954" r="9"/><text class="nn" x="2293" y="957.5">96</text></g>
<g id="n97"><circle class="c" cx="2313" cy="954" r="9"/><text class="nn" x="2313" y="957.5">97</text></g>
<g id="n102"><circle class="c" cx="2353" cy="954" r="9"/><text class="n3" x="2353" y="957">102</text></g>
<g id="n53"><circle class="c" cx="1593" cy="1026" r="9"/><text class="nn" x="1593" y="1029.5">53</text></g>
<g id="n54"><circle class="c" cx="1713" cy="1026" r="9"/><text class="nn" x="1713" y="1029.5">54</text></g>
<g id="n57"><circle class="c" cx="1733" cy="1026" r="9"/><text class="nn" x="1733" y="1029.5">57</text></g>
<g id="n62"><circle class="c" cx="1793" cy="1026" r="9"/><text class="nn" x="1793" y="1029.5">62</text></g>
<g id="n64"><circle class="c" cx="1813" cy="1026" r="9"/><text class="nn" x="1813" y="1029.5">64</text></g>
<g id="n78"><circle class="c" cx="2053" cy="1026" r="9"/><text class="nn" x="2053" y="1029.5">78</text></g>
<g id="n111"><circle class="c" cx="2513" cy="1026" r="9"/><text class="n3" x="2513" y="1029">111</text></g>
<g id="n119"><circle class="cr" cx="2613" cy="1026" r="9"/><text class="n3r" x="2613" y="1029">119</text></g>
<g id="n127"><circle class="c" cx="2753" cy="1026" r="9"/><text class="n3" x="2753" y="1029">127</text></g>
<g id="n132"><circle class="c" cx="2853" cy="1026" r="9"/><text class="n3" x="2853" y="1029">132</text></g>
<g id="n136"><circle class="c" cx="2913" cy="1026" r="9"/><text class="n3" x="2913" y="1029">136</text></g>
<g id="n139"><circle class="c" cx="2953" cy="1026" r="9"/><text class="n3" x="2953" y="1029">139</text></g>
<g id="n68"><circle class="cr" cx="1913" cy="1098" r="9"/><text class="nr" x="1913" y="1101.5">68</text></g>
<g id="n72"><circle class="cr" cx="2013" cy="1098" r="9"/><text class="nr" x="2013" y="1101.5">72</text></g>
<g id="n83"><circle class="cr" cx="2113" cy="1098" r="9"/><text class="nr" x="2113" y="1101.5">83</text></g>
<g id="n88"><circle class="c" cx="2173" cy="1098" r="9"/><text class="nn" x="2173" y="1101.5">88</text></g>
<g id="n89"><circle class="c" cx="2213" cy="1098" r="9"/><text class="nn" x="2213" y="1101.5">89</text></g>
<g id="n93"><circle class="c" cx="2253" cy="1098" r="9"/><text class="nn" x="2253" y="1101.5">93</text></g>
<g id="n103"><circle class="c" cx="2353" cy="1098" r="9"/><text class="n3" x="2353" y="1101">103</text></g>
<g id="n107"><circle class="c" cx="2453" cy="1098" r="9"/><text class="n3" x="2453" y="1101">107</text></g>
<g id="n115"><circle class="c" cx="2553" cy="1098" r="9"/><text class="n3" x="2553" y="1101">115</text></g>
<g id="n122"><circle class="c" cx="2653" cy="1098" r="9"/><text class="n3" x="2653" y="1101">122</text></g>
<g id="n126"><circle class="c" cx="2753" cy="1098" r="9"/><text class="n3" x="2753" y="1101">126</text></g>
<g id="n131"><circle class="c" cx="2813" cy="1098" r="9"/><text class="n3" x="2813" y="1101">131</text></g>
<g id="n134"><circle class="c" cx="2853" cy="1098" r="9"/><text class="n3" x="2853" y="1101">134</text></g>
<g id="n125"><circle class="c" cx="2713" cy="1134" r="9"/><text class="n3" x="2713" y="1137">125</text></g>
<g id="n128"><circle class="c" cx="2753" cy="1134" r="9"/><text class="n3" x="2753" y="1137">128</text></g>
<g id="n121"><circle class="c" cx="2613" cy="1206" r="9"/><text class="n3" x="2613" y="1209">121</text></g>
<g id="n123"><circle class="c" cx="2653" cy="1206" r="9"/><text class="n3" x="2653" y="1209">123</text></g>
<g id="n112"><circle class="c" cx="2513" cy="1242" r="9"/><text class="n3" x="2513" y="1245">112</text></g>
<g id="n116"><circle class="c" cx="2553" cy="1242" r="9"/><text class="n3" x="2553" y="1245">116</text></g>
<g id="n105"><circle class="c" cx="2413" cy="1278" r="9"/><text class="n3" x="2413" y="1281">105</text></g>
<g id="n108"><circle class="c" cx="2453" cy="1278" r="9"/><text class="n3" x="2453" y="1281">108</text></g>
<g id="n90"><circle class="cr" cx="2213" cy="1314" r="9"/><text class="nr" x="2213" y="1317.5">90</text></g>
<g id="n98"><circle class="cr" cx="2313" cy="1314" r="9"/><text class="nr" x="2313" y="1317.5">98</text></g>
<g id="n106"><circle class="cr" cx="2413" cy="1314" r="9"/><text class="n3r" x="2413" y="1317">106</text></g>
<g id="n110"><circle class="cr" cx="2513" cy="1314" r="9"/><text class="n3r" x="2513" y="1317">110</text></g>
<g id="n80"><circle class="c" cx="2073" cy="1458" r="9"/><text class="nn" x="2073" y="1461.5">80</text></g>
<g id="n84"><circle class="c" cx="2113" cy="1458" r="9"/><text class="nn" x="2113" y="1461.5">84</text></g>
<g id="n86"><circle class="c" cx="2153" cy="1458" r="9"/><text class="nn" x="2153" y="1461.5">86</text></g>
<g id="n26"><circle class="c" cx="1053" cy="1567" r="9"/><text class="nn" x="1053" y="1570.5">26</text></g>
<g id="n28"><circle class="c" cx="1173" cy="1567" r="9"/><text class="nn" x="1173" y="1570.5">28</text></g>
<g id="n30"><circle class="c" cx="1193" cy="1567" r="9"/><text class="nn" x="1193" y="1570.5">30</text></g>
<g id="n32"><circle class="c" cx="1253" cy="1567" r="9"/><text class="nn" x="1253" y="1570.5">32</text></g>
<g id="n36"><circle class="c" cx="1273" cy="1567" r="9"/><text class="nn" x="1273" y="1570.5">36</text></g>
<g id="n43"><circle class="c" cx="1513" cy="1567" r="9"/><text class="nn" x="1513" y="1570.5">43</text></g>
</g>

<g id="labels" transform="translate(2,0)">
<text class="tr" x="233" y="157">桩基工程1</text><text class="tr" x="233" y="177">12</text>
<text class="t" x="473" y="157">桩基工程2</text><text class="t" x="473" y="177">12</text>
<text class="t" x="623" y="145">基础<tspan x="623" dy="12">土方2</tspan></text><text class="t" x="623" y="177">3</text>
<text class="t" x="683" y="133">垫层<tspan x="683" dy="12">、砍</tspan><tspan x="683" dy="12">桩2</tspan></text><text class="t" x="683" y="177">3</text>
<text class="t" x="753" y="145">基础钢筋<tspan x="753" dy="12">2</tspan></text><text class="t" x="753" y="177">4</text>
<text class="t" x="843" y="145">基础模板安装<tspan x="843" dy="12">2</tspan></text><text class="t" x="843" y="177">5</text>
<text class="t" x="901" y="133">基础<tspan x="901" dy="12">混凝</tspan><tspan x="901" dy="12">土2</tspan></text><text class="t" x="901" y="177">1</text>
<text class="t" x="933" y="133">基础<tspan x="933" dy="12">拆模</tspan><tspan x="933" dy="12">2</tspan></text><text class="t" x="933" y="177">2</text>
<text class="t" x="993" y="157">回填土2</text><text class="t" x="993" y="177">4</text>
<text class="t" x="1043" y="133">柱子<tspan x="1043" dy="12">钢筋</tspan><tspan x="1043" dy="12">1-2</tspan></text><text class="t" x="1043" y="177">1</text>
<text class="t" x="1113" y="145">柱梁板模板安装<tspan x="1113" dy="12">1-2</tspan></text><text class="t" x="1113" y="177">6</text>
<text class="t" x="1181" y="133">柱混<tspan x="1181" dy="12">凝土</tspan><tspan x="1181" dy="12">1-2</tspan></text><text class="t" x="1183" y="177">1</text>
<text class="t" x="1223" y="133">梁板<tspan x="1223" dy="12">钢筋</tspan><tspan x="1223" dy="12">1-2</tspan></text><text class="t" x="1223" y="177">3</text>
<text class="t" x="1263" y="133">梁板混<tspan x="1263" dy="12">凝土</tspan><tspan x="1263" dy="12">1-2</tspan></text><text class="t" x="1263" y="177">1</text>
<text class="t" x="1393" y="157">养护1-2</text><text class="t" x="1393" y="177">12</text>
<text class="t" x="1553" y="133">柱梁板模<tspan x="1553" dy="12">板拆除</tspan><tspan x="1553" dy="12">1-2</tspan></text><text class="t" x="1553" y="177">4</text>
<text class="t" x="1653" y="145">柱梁板模板安装<tspan x="1653" dy="12">3-2</tspan></text><text class="t" x="1653" y="177">6</text>
<text class="t" x="1721" y="133">柱混<tspan x="1721" dy="12">凝土</tspan><tspan x="1721" dy="12">3-2</tspan></text><text class="t" x="1723" y="177">1</text>
<text class="t" x="1763" y="133">梁板<tspan x="1763" dy="12">钢筋</tspan><tspan x="1763" dy="12">3-2</tspan></text><text class="t" x="1763" y="177">3</text>
<text class="t" x="1803" y="133">梁板混<tspan x="1803" dy="12">凝土</tspan><tspan x="1803" dy="12">3-2</tspan></text><text class="t" x="1803" y="177">1</text>
<text class="t" x="1933" y="157">养护3-2</text><text class="t" x="1933" y="177">12</text>
<text class="t" x="2093" y="133">柱梁板模<tspan x="2093" dy="12">板拆除</tspan><tspan x="2093" dy="12">3-2</tspan></text><text class="t" x="2093" y="177">4</text>
<text class="t" x="2193" y="145">柱梁板模板安装<tspan x="2193" dy="12">5-2</tspan></text><text class="t" x="2193" y="177">6</text>
<text class="t" x="2261" y="133">柱混<tspan x="2261" dy="12">凝土</tspan><tspan x="2261" dy="12">5-2</tspan></text><text class="t" x="2263" y="177">1</text>
<text class="t" x="2303" y="133">梁板<tspan x="2303" dy="12">钢筋</tspan><tspan x="2303" dy="12">5-2</tspan></text><text class="t" x="2303" y="177">3</text>
<text class="t" x="2343" y="133">梁板混<tspan x="2343" dy="12">凝土</tspan><tspan x="2343" dy="12">5-2</tspan></text><text class="t" x="2343" y="177">1</text>
<text class="t" x="2473" y="157">养护5-2</text><text class="t" x="2473" y="177">12</text>
<text class="t" x="2633" y="145">柱梁板模板<tspan x="2633" dy="12">拆除5-2</tspan></text><text class="t" x="2633" y="177">4</text>
<text class="tr" x="2863" y="157">砌砖墙5-2</text><text class="tr" x="2863" y="177">5</text>
<text class="t" x="2933" y="133">安装门<tspan x="2933" dy="12">窗框</tspan><tspan x="2933" dy="12">5-2</tspan></text><text class="t" x="2933" y="177">2</text>
<text class="t" x="3103" y="145">内墙天棚抹灰<tspan x="3103" dy="12">5-2</tspan></text><text class="t" x="3103" y="177">5</text>
<text class="t" x="3183" y="133">内墙天<tspan x="3183" dy="12">棚涂料</tspan><tspan x="3183" dy="12">5-1</tspan></text><text class="t" x="3183" y="177">3</text>
<text class="t" x="3243" y="133">内墙天<tspan x="3243" dy="12">棚涂料</tspan><tspan x="3243" dy="12">5-2</tspan></text>
<text class="t" x="3303" y="133">安装门<tspan x="3303" dy="12">窗扇</tspan><tspan x="3303" dy="12">5-2</tspan></text><text class="t" x="3303" y="177">2</text>
<text class="t" x="3373" y="157">地面装饰5-2</text><text class="t" x="3373" y="177">4</text>
<text class="tr" x="3593" y="133">明<tspan x="3593" dy="12">沟</tspan><tspan x="3593" dy="12">2</tspan></text><text class="tr" x="3593" y="177">2</text>

<text class="tr" x="383" y="901">基础土<tspan x="383" dy="12">方1</tspan></text><text class="tr" x="383" y="933">3</text>
<text class="tr" x="443" y="889">垫层<tspan x="443" dy="12">、砍</tspan><tspan x="443" dy="12">桩1</tspan></text><text class="tr" x="443" y="933">3</text>
<text class="tr" x="513" y="901">基础钢筋<tspan x="513" dy="12">1</tspan></text><text class="tr" x="513" y="933">4</text>
<text class="tr" x="603" y="901">基础模板安装<tspan x="603" dy="12">1</tspan></text><text class="tr" x="603" y="933">5</text>
<text class="tr" x="661" y="889">基础<tspan x="661" dy="12">混凝</tspan><tspan x="661" dy="12">1</tspan></text><text class="tr" x="663" y="933">1</text>
<text class="tr" x="693" y="889">基础<tspan x="693" dy="12">拆模</tspan><tspan x="693" dy="12">1</tspan></text><text class="tr" x="693" y="933">2</text>
<text class="tr" x="753" y="913">回填土1</text><text class="tr" x="753" y="933">4</text>
<text class="tr" x="803" y="889">柱子<tspan x="803" dy="12">钢筋</tspan><tspan x="803" dy="12">1-1</tspan></text><text class="tr" x="803" y="933">1</text>
<text class="tr" x="873" y="901">柱梁板模板安装<tspan x="873" dy="12">1-1</tspan></text><text class="tr" x="873" y="933">6</text>
<text class="tr" x="941" y="889">柱混<tspan x="941" dy="12">凝土</tspan><tspan x="941" dy="12">1-1</tspan></text><text class="tr" x="943" y="933">1</text>
<text class="tr" x="983" y="889">梁板<tspan x="983" dy="12">钢筋</tspan><tspan x="983" dy="12">1-1</tspan></text><text class="tr" x="983" y="933">3</text>
<text class="tr" x="1023" y="889">梁板混<tspan x="1023" dy="12">凝土</tspan><tspan x="1023" dy="12">1-1</tspan></text><text class="tr" x="1023" y="933">1</text>
<text class="tr" x="1153" y="913">养护1-1</text><text class="tr" x="1153" y="933">12</text>
<text class="tr" x="1313" y="889">柱梁板模<tspan x="1313" dy="12">板拆除</tspan><tspan x="1313" dy="12">1-1</tspan></text><text class="tr" x="1313" y="933">4</text>
<text class="tr" x="1413" y="901">柱梁板模板安装<tspan x="1413" dy="12">3-1</tspan></text><text class="tr" x="1413" y="933">6</text>
<text class="tr" x="1481" y="889">柱混<tspan x="1481" dy="12">凝土</tspan><tspan x="1481" dy="12">3-1</tspan></text><text class="tr" x="1483" y="933">1</text>
<text class="tr" x="1523" y="889">梁板<tspan x="1523" dy="12">钢筋</tspan><tspan x="1523" dy="12">3-1</tspan></text><text class="tr" x="1523" y="933">3</text>
<text class="tr" x="1563" y="889">梁板混<tspan x="1563" dy="12">凝土</tspan><tspan x="1563" dy="12">3-1</tspan></text><text class="tr" x="1563" y="933">1</text>
<text class="t" x="1693" y="913">养护3-1</text><text class="t" x="1693" y="933">12</text>
<text class="t" x="1853" y="889">柱梁板模<tspan x="1853" dy="12">板拆除</tspan><tspan x="1853" dy="12">3-1</tspan></text><text class="t" x="1853" y="933">4</text>
<text class="t" x="1953" y="901">柱梁板模板安装<tspan x="1953" dy="12">5-1</tspan></text><text class="t" x="1953" y="933">6</text>
<text class="t" x="2021" y="889">柱混<tspan x="2021" dy="12">凝土</tspan><tspan x="2021" dy="12">5-1</tspan></text><text class="t" x="2023" y="933">1</text>
<text class="t" x="2063" y="889">梁板<tspan x="2063" dy="12">钢筋</tspan><tspan x="2063" dy="12">5-1</tspan></text><text class="t" x="2063" y="933">3</text>
<text class="t" x="2103" y="889">梁板混<tspan x="2103" dy="12">凝土</tspan><tspan x="2103" dy="12">5-1</tspan></text><text class="t" x="2103" y="933">1</text>
<text class="t" x="2233" y="913">养护5-1</text><text class="t" x="2233" y="933">12</text>
<text class="t" x="2393" y="901">柱梁板模板<tspan x="2393" dy="12">拆除5-1</tspan></text><text class="t" x="2393" y="933">4</text>

<text class="tr" x="2130" y="970">3</text>
<text class="t" x="2213" y="937">屋面找平<tspan x="2213" dy="12">层1</tspan></text><text class="t" x="2213" y="969">4</text>
<text class="tr" x="2273" y="969">2</text>
<text class="t s" x="2299" y="939">屋面挤<tspan x="2299" dy="10">塑板</tspan></text><text class="t" x="2303" y="969">1</text>
<text class="t s" x="2337" y="929">屋面<tspan x="2337" dy="10">隔防水</tspan><tspan x="2337" dy="10">层1</tspan></text><text class="t" x="2333" y="969">2</text>
<text class="t s" x="2378" y="929">屋面<tspan x="2378" dy="10">保护</tspan><tspan x="2378" dy="10">层1</tspan></text><text class="t" x="2380" y="969">2</text>

<text class="t" x="1566" y="997">柱子<tspan x="1566" dy="12">钢筋</tspan><tspan x="1566" dy="12">4-1</tspan></text><text class="t" x="1573" y="1041">1</text>
<text class="t" x="1653" y="1009">柱梁板模板安装<tspan x="1653" dy="12">4-1</tspan></text><text class="t" x="1653" y="1041">6</text>
<text class="t" x="1721" y="997">柱混<tspan x="1721" dy="12">凝土</tspan><tspan x="1721" dy="12">4-1</tspan></text><text class="t" x="1723" y="1041">1</text>
<text class="t" x="1763" y="997">梁板<tspan x="1763" dy="12">钢筋</tspan><tspan x="1763" dy="12">4-1</tspan></text><text class="t" x="1763" y="1041">3</text>
<text class="t" x="1803" y="997">梁板混<tspan x="1803" dy="12">凝土</tspan><tspan x="1803" dy="12">4-1</tspan></text><text class="t" x="1803" y="1041">1</text>
<text class="t" x="1933" y="1021">养护4-1</text><text class="t" x="1933" y="1041">12</text>
<text class="t" x="2093" y="1009">柱梁板模板<tspan x="2093" dy="12">拆除4-1</tspan></text><text class="t" x="2093" y="1041">4</text>
<text class="tr" x="2563" y="1021">砌砖墙4-1</text><text class="tr" x="2563" y="1041">5</text>
<text class="t" x="2633" y="997">安装门<tspan x="2633" dy="12">窗框</tspan><tspan x="2633" dy="12">4-1</tspan></text><text class="t" x="2633" y="1041">2</text>
<text class="t" x="2803" y="1009">内墙天棚抹灰<tspan x="2803" dy="12">4-1</tspan></text><text class="t" x="2803" y="1041">5</text>
<text class="t" x="2883" y="997">内墙天<tspan x="2883" dy="12">棚涂料</tspan><tspan x="2883" dy="12">3-2</tspan></text><text class="t" x="2883" y="1041">3</text>
<text class="t" x="2933" y="997">安装门<tspan x="2933" dy="12">窗扇</tspan><tspan x="2933" dy="12">3-2</tspan></text><text class="t" x="2933" y="1041">2</text>
<text class="t" x="2993" y="1021">地面装饰3-2</text><text class="t" x="2993" y="1041">4</text>
<text class="t s" x="1830" y="1040">柱子<tspan x="1830" dy="10">钢筋</tspan><tspan x="1830" dy="10">5-1</tspan></text><text class="t" x="1826" y="1077">1</text>

<text class="tr" x="1745" y="1113">17</text>
<text class="tr" x="1963" y="1093">砌砖墙1-1</text><text class="tr" x="1963" y="1113">5</text>
<text class="tr" x="2063" y="1093">砌砖墙1-2</text><text class="tr" x="2063" y="1113">5</text>
<text class="t" x="2143" y="1081">地面<tspan x="2143" dy="12">垫层2</tspan></text><text class="t" x="2143" y="1113">3</text>
<text class="tr" x="2193" y="1113">2</text>
<text class="t" x="2233" y="1069">安装门<tspan x="2233" dy="12">窗框</tspan><tspan x="2233" dy="12">1-2</tspan></text><text class="t" x="2233" y="1113">2</text>
<text class="t" x="2303" y="1081">内墙天棚抹灰<tspan x="2303" dy="12">1-2</tspan></text><text class="t" x="2303" y="1113">5</text>
<text class="t" x="2403" y="1081">内墙天棚抹灰<tspan x="2403" dy="12">2-1</tspan></text><text class="t" x="2403" y="1113">5</text>
<text class="t" x="2503" y="1081">内墙天棚抹灰<tspan x="2503" dy="12">2-2</tspan></text><text class="t" x="2503" y="1113">5</text>
<text class="t" x="2603" y="1081">内墙天棚抹灰<tspan x="2603" dy="12">3-1</tspan></text><text class="t" x="2603" y="1113">5</text>
<text class="t" x="2703" y="1081">内墙天棚抹灰<tspan x="2703" dy="12">3-2</tspan></text><text class="t" x="2703" y="1113">5</text>
<text class="t" x="2783" y="1069">内墙天<tspan x="2783" dy="12">棚涂料</tspan><tspan x="2783" dy="12">3-1</tspan></text><text class="t" x="2783" y="1113">3</text>
<text class="t" x="2833" y="1069">安装门<tspan x="2833" dy="12">窗扇</tspan><tspan x="2833" dy="12">3-1</tspan></text><text class="t" x="2833" y="1113">2</text>
<text class="t" x="2893" y="1093">地面装饰3-1</text><text class="t" x="2893" y="1113">4</text>

<text class="t s" x="2683" y="1108">内墙天<tspan x="2683" dy="10">棚涂料</tspan><tspan x="2683" dy="10">2-2</tspan></text><text class="t" x="2683" y="1149">3</text>
<text class="t s" x="2733" y="1108">安装门<tspan x="2733" dy="10">窗扇</tspan><tspan x="2733" dy="10">2-2</tspan></text><text class="t" x="2733" y="1149">2</text>
<text class="t" x="2793" y="1129">地面装饰2-2</text><text class="t" x="2793" y="1149">4</text>
<text class="t" x="2583" y="1177">内墙天<tspan x="2583" dy="12">棚涂料</tspan><tspan x="2583" dy="12">2-1</tspan></text><text class="t" x="2583" y="1221">3</text>
<text class="t" x="2633" y="1177">安装门<tspan x="2633" dy="12">窗扇</tspan><tspan x="2633" dy="12">2-1</tspan></text><text class="t" x="2633" y="1221">2</text>
<text class="t" x="2693" y="1201">地面装饰2-1</text><text class="t" x="2693" y="1221">4</text>
<text class="tr" x="2735" y="1185">8</text>
<text class="t" x="2483" y="1213">内墙天<tspan x="2483" dy="12">棚涂料</tspan><tspan x="2483" dy="12">1-2</tspan></text><text class="t" x="2483" y="1257">3</text>
<text class="t" x="2533" y="1213">安装门<tspan x="2533" dy="12">窗扇</tspan><tspan x="2533" dy="12">1-2</tspan></text><text class="t" x="2533" y="1257">2</text>
<text class="t" x="2603" y="1237">地面装饰1-2</text><text class="t" x="2603" y="1257">4</text>
<text class="t" x="2383" y="1249">内墙天<tspan x="2383" dy="12">棚涂料</tspan><tspan x="2383" dy="12">1-1</tspan></text><text class="t" x="2383" y="1293">3</text>
<text class="t" x="2433" y="1249">安装门<tspan x="2433" dy="12">窗扇</tspan><tspan x="2433" dy="12">1-1</tspan></text><text class="t" x="2433" y="1293">2</text>
<text class="t" x="2505" y="1273">地面装饰1-1</text><text class="t" x="2505" y="1293">4</text>
<text class="tr" x="2163" y="1309">砌砖墙2-1</text><text class="tr" x="2163" y="1329">5</text>
<text class="tr" x="2263" y="1309">砌砖墙2-2</text><text class="tr" x="2263" y="1329">5</text>
<text class="tr" x="2363" y="1309">砌砖墙3-1</text><text class="tr" x="2363" y="1329">5</text>
<text class="tr" x="2463" y="1309">砌砖墙3-2</text><text class="tr" x="2463" y="1329">5</text>
<text class="t s" x="2537" y="1287">安装门<tspan x="2537" dy="10">窗框</tspan><tspan x="2537" dy="10">3-2</tspan></text><text class="t" x="2537" y="1329">2</text>
<text class="t s" x="2437" y="1323">安装门<tspan x="2437" dy="10">窗框</tspan><tspan x="2437" dy="10">3-1</tspan></text><text class="t" x="2437" y="1365">2</text>
<text class="t s" x="2337" y="1358">安装门<tspan x="2337" dy="10">窗框</tspan><tspan x="2337" dy="10">2-2</tspan></text><text class="t" x="2337" y="1402">2</text>
<text class="t s" x="2237" y="1393">安装门<tspan x="2237" dy="10">窗框</tspan><tspan x="2237" dy="10">2-1</tspan></text><text class="t" x="2237" y="1437">2</text>
<text class="t" x="2040" y="1441">地面垫<tspan x="2040" dy="12">层1</tspan></text><text class="t" x="2040" y="1473">3</text>
<text class="tr" x="2093" y="1473">2</text>
<text class="t" x="2133" y="1429">安装门<tspan x="2133" dy="12">窗框</tspan><tspan x="2133" dy="12">1-1</tspan></text><text class="t" x="2133" y="1473">2</text>
<text class="t" x="2203" y="1441">内墙天棚抹灰<tspan x="2203" dy="12">1-1</tspan></text><text class="t" x="2203" y="1473">5</text>

<text class="t" x="1806" y="277">柱子<tspan x="1806" dy="12">钢筋</tspan><tspan x="1806" dy="12">4-2</tspan></text><text class="t" x="1813" y="321">1</text>
<text class="t" x="1893" y="289">柱梁板模板安装<tspan x="1893" dy="12">4-2</tspan></text><text class="t" x="1893" y="321">6</text>
<text class="t" x="1961" y="277">柱混<tspan x="1961" dy="12">凝土</tspan><tspan x="1961" dy="12">4-2</tspan></text><text class="t" x="1963" y="321">1</text>
<text class="t" x="2003" y="277">梁板<tspan x="2003" dy="12">钢筋</tspan><tspan x="2003" dy="12">4-2</tspan></text><text class="t" x="2003" y="321">3</text>
<text class="t" x="2043" y="277">梁板混<tspan x="2043" dy="12">凝土</tspan><tspan x="2043" dy="12">4-2</tspan></text><text class="t" x="2043" y="321">1</text>
<text class="t" x="2173" y="301">养护4-2</text><text class="t" x="2173" y="321">12</text>
<text class="t" x="2333" y="289">柱梁板模板<tspan x="2333" dy="12">拆除4-2</tspan></text><text class="t" x="2333" y="321">4</text>
<text class="tr" x="2663" y="301">砌砖墙4-2</text><text class="tr" x="2663" y="321">5</text>
<text class="tr" x="2763" y="301">砌砖墙5-1</text><text class="tr" x="2763" y="321">5</text>
<text class="t" x="2835" y="277">安装门<tspan x="2835" dy="12">窗框</tspan><tspan x="2835" dy="12">5-1</tspan></text><text class="t" x="2835" y="321">2</text>
<text class="t" x="3003" y="289">内墙天棚抹灰<tspan x="3003" dy="12">5-1</tspan></text><text class="t" x="3003" y="321">5</text>
<text class="t" x="3083" y="277">内墙天<tspan x="3083" dy="12">棚涂料</tspan><tspan x="3083" dy="12">4-2</tspan></text><text class="t" x="3083" y="321">3</text>
<text class="t" x="3133" y="277">安装门<tspan x="3133" dy="12">窗扇</tspan><tspan x="3133" dy="12">4-2</tspan></text><text class="t" x="3133" y="321">2</text>
<text class="t" x="3193" y="301">地面装饰4-2</text><text class="t" x="3193" y="321">4</text>
<text class="t" x="2735" y="349">安装门<tspan x="2735" dy="12">窗框</tspan><tspan x="2735" dy="12">4-2</tspan></text><text class="t" x="2735" y="393">2</text>
<text class="t" x="2903" y="361">内墙天棚抹灰<tspan x="2903" dy="12">4-2</tspan></text><text class="t" x="2903" y="393">5</text>
<text class="t" x="2983" y="349">内墙天<tspan x="2983" dy="12">棚涂料</tspan><tspan x="2983" dy="12">4-1</tspan></text><text class="t" x="2983" y="393">3</text>
<text class="t" x="3033" y="349">安装门<tspan x="3033" dy="12">窗扇</tspan><tspan x="3033" dy="12">4-1</tspan></text><text class="t" x="3033" y="393">2</text>
<text class="t" x="3093" y="373">地面装饰4-1</text><text class="t" x="3093" y="393">4</text>
<text class="t" x="3120" y="337">外墙面砖1</text><text class="t" x="3120" y="357">31</text>
<text class="t" x="3453" y="313">脚手<tspan x="3453" dy="12">架拆</tspan><tspan x="3453" dy="12">除1</tspan></text><text class="t" x="3453" y="357">2</text>
<text class="t" x="3495" y="337">明沟1</text><text class="t" x="3493" y="357">2</text>
<text class="tr" x="2378" y="287">3</text>
<text class="t" x="2453" y="253">屋面找平<tspan x="2453" dy="12">层2</tspan></text><text class="t" x="2453" y="285">4</text>
<text class="tr" x="2513" y="285">2</text>
<text class="t" x="2533" y="241">屋面挤<tspan x="2533" dy="12">塑板</tspan><tspan x="2533" dy="12">2</tspan></text><text class="t" x="2543" y="285">1</text>
<text class="t" x="2573" y="241">屋面<tspan x="2573" dy="12">隔防水</tspan><tspan x="2573" dy="12">层2</tspan></text><text class="t" x="2573" y="285">2</text>
<text class="t" x="2620" y="241">屋面<tspan x="2620" dy="12">保护</tspan><tspan x="2620" dy="12">层2</tspan></text><text class="t" x="2613" y="285">2</text>
<text class="tr" x="3220" y="229">外墙面砖2</text><text class="tr" x="3220" y="249">31</text>
<text class="tr" x="3556" y="195">脚手<tspan x="3556" dy="12">架拆</tspan><tspan x="3556" dy="12">除2</tspan></text><text class="tr" x="3556" y="249">2</text>
<text class="t s" x="3229" y="172">安装门<tspan x="3229" dy="10">窗扇</tspan><tspan x="3229" dy="10">5-1</tspan></text><text class="t" x="3231" y="213">2</text>
<text class="t" x="3293" y="193">地面装饰5-1</text><text class="t" x="3293" y="213">4</text>

<text class="t" x="1266" y="529">柱子<tspan x="1266" dy="12">钢筋</tspan><tspan x="1266" dy="12">2-2</tspan></text><text class="t" x="1275" y="573">1</text>
<text class="t" x="1353" y="541">柱梁板模板安装<tspan x="1353" dy="12">2-2</tspan></text><text class="t" x="1353" y="573">6</text>
<text class="t" x="1421" y="529">柱混<tspan x="1421" dy="12">凝土</tspan><tspan x="1421" dy="12">2-2</tspan></text><text class="t" x="1423" y="573">1</text>
<text class="t" x="1463" y="529">梁板<tspan x="1463" dy="12">钢筋</tspan><tspan x="1463" dy="12">2-2</tspan></text><text class="t" x="1463" y="573">3</text>
<text class="t" x="1503" y="529">梁板混<tspan x="1503" dy="12">凝土</tspan><tspan x="1503" dy="12">2-2</tspan></text><text class="t" x="1503" y="573">1</text>
<text class="t" x="1633" y="553">养护2-2</text><text class="t" x="1633" y="573">12</text>
<text class="t" x="1793" y="541">柱梁板模板<tspan x="1793" dy="12">拆除2-2</tspan></text><text class="t" x="1793" y="573">4</text>
<text class="t s" x="1533" y="569">柱子<tspan x="1533" dy="10">钢筋</tspan><tspan x="1533" dy="10">3-2</tspan></text>
<text class="t s" x="1526" y="603">脚手架<tspan x="1526" dy="10">安装</tspan><tspan x="1526" dy="10">3-2</tspan></text><text class="t" x="1525" y="644">1</text>
<text class="t s" x="1588" y="603">脚手架<tspan x="1588" dy="10">安装</tspan><tspan x="1588" dy="10">4-1</tspan></text><text class="t" x="1585" y="644">1</text>
<text class="t s" x="1276" y="640">脚手架<tspan x="1276" dy="10">安装</tspan><tspan x="1276" dy="10">2-2</tspan></text><text class="t" x="1275" y="681">1</text>
<text class="t s" x="1312" y="640">脚手架<tspan x="1312" dy="10">安装</tspan><tspan x="1312" dy="10">3-1</tspan></text><text class="t" x="1313" y="681">1</text>
<text class="t s" x="1038" y="676">脚手架<tspan x="1038" dy="10">安装</tspan><tspan x="1038" dy="10">1-2</tspan></text><text class="t" x="1040" y="717">1</text>
<text class="t s" x="1073" y="676">脚手架<tspan x="1073" dy="10">安装</tspan><tspan x="1073" dy="10">2-1</tspan></text><text class="t" x="1068" y="717">1</text>
<text class="t s" x="1810" y="460">脚手架<tspan x="1810" dy="10">安装</tspan><tspan x="1810" dy="10">4-2</tspan></text><text class="t" x="1818" y="501">1</text>
<text class="t s" x="1848" y="460">脚手架<tspan x="1848" dy="10">安装</tspan><tspan x="1848" dy="10">5-1</tspan></text><text class="t" x="1853" y="501">1</text>
<text class="t s" x="2072" y="385">柱子<tspan x="2072" dy="10">钢筋</tspan><tspan x="2072" dy="10">5-2</tspan></text>
<text class="t s" x="2050" y="432">脚手架<tspan x="2050" dy="10">安装</tspan><tspan x="2050" dy="10">5-2</tspan></text><text class="t" x="2057" y="465">1</text>
<text class="tr" x="1046" y="896">1</text>
<text class="tr" x="505" y="752">9</text>
<text class="tr" x="634" y="788">8</text>
<text class="tr" x="724" y="824">7</text>
<text class="tr" x="783" y="860">11</text>
<text class="tr" x="1822" y="1005">1</text>

<text class="t" x="1040" y="1538">柱子<tspan x="1040" dy="12">钢筋</tspan><tspan x="1040" dy="12">2-1</tspan></text><text class="t" x="1040" y="1582">1</text>
<text class="t" x="1113" y="1550">柱梁板模板安装<tspan x="1113" dy="12">2-1</tspan></text><text class="t" x="1113" y="1582">6</text>
<text class="t" x="1181" y="1538">柱混<tspan x="1181" dy="12">凝土</tspan><tspan x="1181" dy="12">2-1</tspan></text><text class="t" x="1183" y="1582">1</text>
<text class="t" x="1223" y="1538">梁板<tspan x="1223" dy="12">钢筋</tspan><tspan x="1223" dy="12">2-1</tspan></text><text class="t" x="1223" y="1582">3</text>
<text class="t" x="1263" y="1538">梁板混<tspan x="1263" dy="12">凝土</tspan><tspan x="1263" dy="12">2-1</tspan></text><text class="t" x="1263" y="1582">1</text>
<text class="t" x="1393" y="1562">养护2-1</text><text class="t" x="1393" y="1582">12</text>
<text class="t" x="1555" y="1550">柱梁板模板<tspan x="1555" dy="12">拆除2-1</tspan></text><text class="t" x="1555" y="1582">4</text>
<text class="t s" x="1291" y="1577">柱子<tspan x="1291" dy="10">钢筋</tspan><tspan x="1291" dy="10">3-1</tspan></text><text class="t" x="1287" y="1617">1</text>
<text class="tr" x="1234" y="1508">6</text><text class="tr" x="1286" y="1540">1</text>
<text class="t" x="808" y="1609">脚手架<tspan x="808" dy="12">安装</tspan><tspan x="808" dy="12">1-1</tspan></text><text class="t" x="806" y="1653">1</text>
</g>
</svg>
